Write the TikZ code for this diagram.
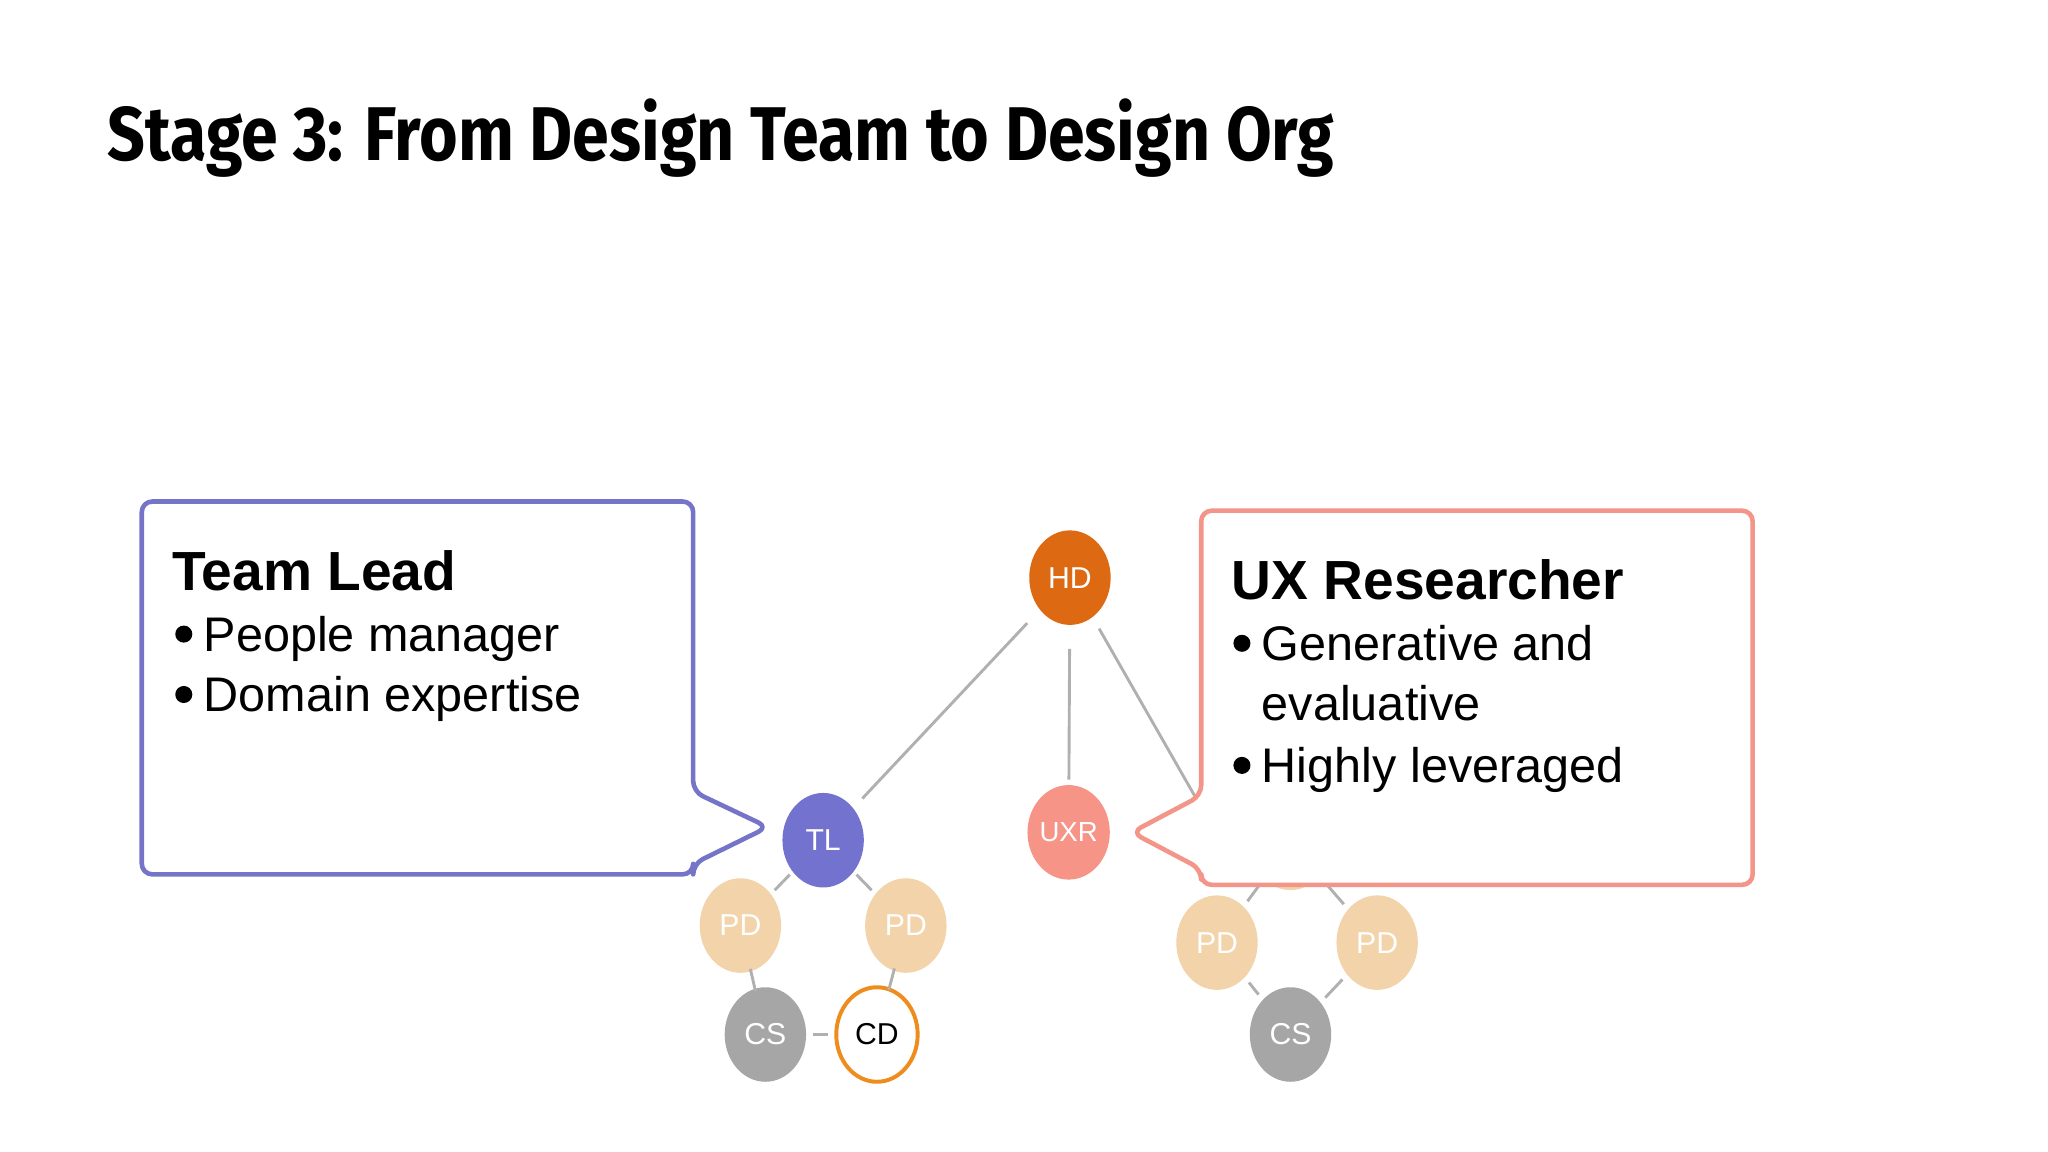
\documentclass[tikz,border=0pt]{standalone}
\usepackage{fontspec}
\setmainfont{Liberation Sans}
\newfontfamily\titlefont{Fira Sans}
\usetikzlibrary{shapes.geometric}
\definecolor{tlc}{HTML}{7472CF}
\definecolor{hdc}{HTML}{DD6A12}
\definecolor{uxc}{HTML}{F79488}
\definecolor{pdc}{HTML}{F2D3AA}
\definecolor{csc}{HTML}{A5A6A5}
\definecolor{cdc}{HTML}{EE8C1E}
\definecolor{edc}{HTML}{B0B0B0}
\definecolor{calp}{HTML}{7574C8}
\definecolor{calr}{HTML}{F4958A}
\tikzset{
  pers/.style={ellipse,minimum width=62pt,minimum height=72pt,inner sep=0pt,text=white,font=\fontsize{23}{23}\selectfont},
  edge/.style={draw=edc,line width=2.2pt},
  hd/.style={pers,fill=hdc},
  tl/.style={pers,fill=tlc},
  ux/.style={pers,fill=uxc,font=\fontsize{21}{21}\selectfont},
  pd/.style={pers,fill=pdc},
  cs/.style={pers,fill=csc},
  cd/.style={pers,fill=white,draw=cdc,line width=3pt,text=black},
  callout/.style={line width=3.5pt,fill=white,rounded corners=8pt,line join=round},
  head/.style={anchor=base west,inner sep=0pt,font=\fontsize{42}{42}\selectfont\bfseries},
  bul/.style={anchor=base west,inner sep=0pt,font=\fontsize{37}{37}\selectfont},
  bdot/.style={circle,fill=black,inner sep=0pt,minimum size=13pt},
}
\begin{document}
\begin{tikzpicture}[x=1pt,y=-1pt]
\useasboundingbox[fill=white] (0,0) rectangle (1560,877.5);
\node[anchor=base west,inner sep=0pt,font=\titlefont\fontsize{58}{58}\selectfont\bfseries] (title) at (82,122) {\scalebox{0.87}[1]{Stage 3: From Design Team to Design Org}};
% nodes
\node[hd] (hd) at (815,440) {HD};
\node[tl] (tl) at (627,640) {TL};
\node[ux] (uxr) at (814,634) {UXR};
\node[pd] (pd1) at (564,705) {PD};
\node[pd] (pd2) at (690,705) {PD};
\node[cs] (cs1) at (583,788) {CS};
\node[cd] (cd) at (668,788) {CD};
\node[pd] (pd0) at (983,642) {PD};
\node[pd] (pd3) at (927,718) {PD};
\node[pd] (pd4) at (1049,718) {PD};
\node[cs] (cs2) at (983,788) {CS};
\coordinate (hid) at (935,650);
% edges
\draw[edge,shorten <=14pt,shorten >=10pt] (hd) -- (tl);
\draw[edge,shorten <=18pt,shorten >=4pt] (hd) -- (uxr);
\draw[edge,shorten <=10pt] (hd) -- (hid);
\draw[edge,shorten <=3pt,shorten >=4pt] (tl) -- (pd1);
\draw[edge,shorten <=3pt,shorten >=4pt] (tl) -- (pd2);
\draw[edge,shorten <=-2pt,shorten >=-2pt] (pd1) -- (cs1);
\draw[edge,shorten <=-2pt,shorten >=-2pt] (pd2) -- (cd);
\draw[edge,shorten <=5pt,shorten >=5pt] (cs1) -- (cd);
\draw[edge,shorten <=5pt,shorten >=5pt] (pd0) -- (pd3);
\draw[edge,shorten <=5pt,shorten >=5pt] (pd0) -- (pd4);
\draw[edge,shorten <=5pt,shorten >=5pt] (pd3) -- (cs2);
\draw[edge,shorten <=5pt,shorten >=5pt] (pd4) -- (cs2);
% left callout
\draw[callout,draw=calp] (108,382) -- (528,382) -- (528,603) -- (585,630) -- (528,658) -- (528,666) -- (108,666) -- cycle;
\node[head] (tlh) at (131,450) {Team Lead};
\node[bdot] (tb1) at (140,483) {};
\node[bul] (tt1) at (155,496) {People manager};
\node[bdot] (tb2) at (140,529) {};
\node[bul] (tt2) at (155,542) {Domain expertise};
% right callout
\draw[callout,draw=calr] (915,389) -- (1335,389) -- (1335,674) -- (915,674) -- (915,662) -- (862,634) -- (915,606) -- cycle;
\node[head] (uxh) at (938,457) {UX Researcher};
\node[bdot] (ub1) at (946,490) {};
\node[bul] (ut1) at (961,503) {Generative and};
\node[bul] (ut2) at (961,549) {evaluative};
\node[bdot] (ub2) at (946,583) {};
\node[bul] (ut3) at (961,596) {Highly leveraged};
\end{tikzpicture}
\end{document}
